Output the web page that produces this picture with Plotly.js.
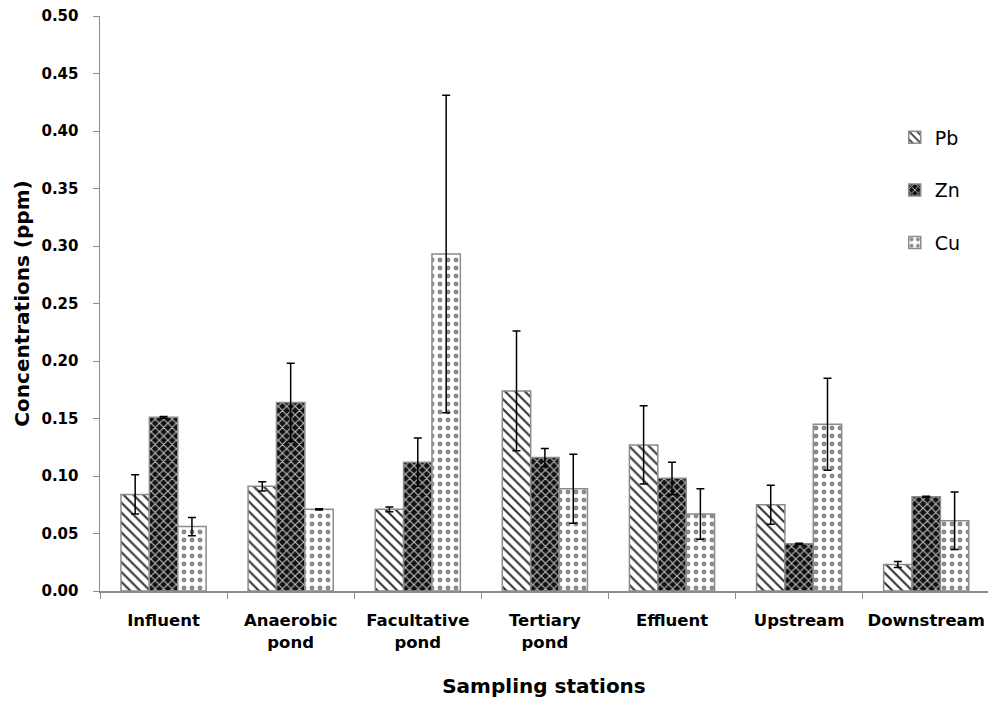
<!DOCTYPE html>
<html>
<head>
<meta charset="utf-8">
<script src="https://cdn.plot.ly/plotly-3.0.1.min.js"></script>
<style>html,body{margin:0;padding:0;background:#fff;}#chart{width:988px;height:705px;}</style>
</head>
<body>
<div id="chart"></div>
<script>
var categories = ["Influent", "Anaerobic<br>pond", "Facultative<br>pond", "Tertiary<br>pond", "Effluent", "Upstream", "Downstream"];
var pbValues = [0.084, 0.091, 0.071, 0.174, 0.127, 0.075, 0.023];
var pbErrors = [0.017, 0.004, 0.002, 0.052, 0.034, 0.017, 0.0026];
var znValues = [0.151, 0.164, 0.112, 0.116, 0.098, 0.041, 0.082];
var znErrors = [0.0008, 0.034, 0.021, 0.008, 0.014, 0.0005, 0.0005];
var cuValues = [0.056, 0.071, 0.293, 0.089, 0.067, 0.145, 0.061];
var cuErrors = [0.008, 0.0005, 0.138, 0.030, 0.022, 0.040, 0.025];
var yTicks = [0, 0.05, 0.10, 0.15, 0.20, 0.25, 0.30, 0.35, 0.40, 0.45, 0.50];
var yTickText = ["0.00", "0.05", "0.10", "0.15", "0.20", "0.25", "0.30", "0.35", "0.40", "0.45", "0.50"];

var FONT = "'DejaVu Sans', sans-serif";
function err(a) {
  return {type: "data", array: a, visible: true, color: "#000", thickness: 1.5, width: 4};
}
var outline = {color: "#8c8c8c", width: 1.5};
var traces = [
  {type: "bar", name: "Pb", x: categories, y: pbValues, error_y: err(pbErrors), legendgroup: "a",
   marker: {color: "#fff", line: outline, pattern: {shape: "\\", fgcolor: "#333", bgcolor: "#fff", size: 7, solidity: 0.3}}},
  {type: "bar", name: "Zn", x: categories, y: znValues, error_y: err(znErrors), legendgroup: "b",
   marker: {color: "#111", line: outline, pattern: {shape: "x", fgcolor: "#bbb", bgcolor: "#111", size: 6, solidity: 0.35}}},
  {type: "bar", name: "Cu", x: categories, y: cuValues, error_y: err(cuErrors), legendgroup: "c",
   marker: {color: "#fff", line: outline, pattern: {shape: ".", fgcolor: "#8a8a8a", bgcolor: "#fff", size: 8, solidity: 0.3}}}
];

var layout = {
  width: 988, height: 705,
  margin: {l: 100, r: 0, t: 16, b: 114},
  paper_bgcolor: "#fff", plot_bgcolor: "#fff",
  barmode: "group", bargap: 0.33, bargroupgap: 0,
  font: {family: FONT, color: "#000"},
  showlegend: true,
  legend: {x: 0.895, y: 0.822, xanchor: "left", yanchor: "top", tracegroupgap: 25,
           font: {size: 19, family: FONT, color: "#000"}, bgcolor: "rgba(0,0,0,0)"},
  xaxis: {
    type: "category", range: [-0.5, 6.486], showline: true, linecolor: "#8c8c8c", linewidth: 1.5,
    ticks: "outside", tickson: "boundaries", ticklen: 6, tickcolor: "#8c8c8c", showgrid: false,
    ticklabelstandoff: 14,
    tickfont: {size: 16.5, family: FONT, weight: "bold", color: "#000"},
    title: {text: "<b>Sampling stations</b>", font: {size: 20, family: FONT, color: "#000"}, standoff: 28}
  },
  yaxis: {
    range: [0, 0.5], tickvals: yTicks, ticktext: yTickText, showline: true, linecolor: "#8c8c8c", linewidth: 1.5,
    ticks: "outside", ticklen: 6, tickcolor: "#8c8c8c", showgrid: false, zeroline: false,
    ticklabelstandoff: 11,
    tickfont: {size: 15, family: FONT, weight: "bold", color: "#000"},
    title: {text: "<b>Concentrations (ppm)</b>", font: {size: 20, family: FONT, color: "#000"}, standoff: 6}
  }
};
Plotly.newPlot("chart", traces, layout, {displayModeBar: false, staticPlot: true});
</script>
</body>
</html>
